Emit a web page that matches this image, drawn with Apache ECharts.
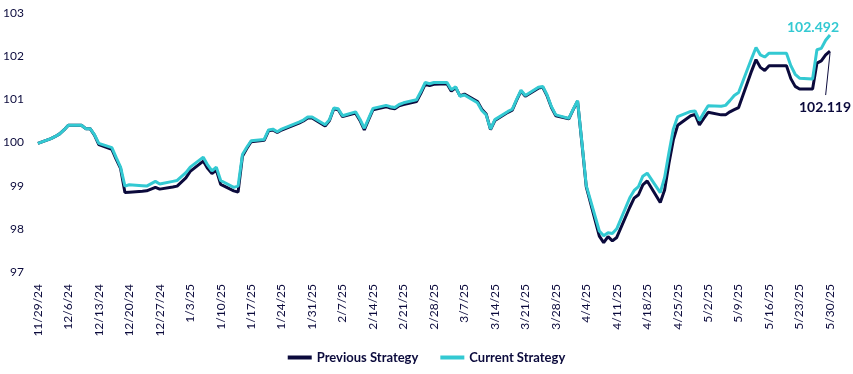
<!DOCTYPE html>
<html>
<head>
<meta charset="utf-8">
<script src="https://cdn.jsdelivr.net/npm/echarts@6/dist/echarts.min.js"></script>
<style>
  html, body { margin: 0; padding: 0; background: #fff; }
  #chart { width: 853px; height: 374px; }
</style>
</head>
<body>
<div id="chart"></div>
<script>
const obsDates = [
  '11/29/24', '12/2/24', '12/3/24', '12/4/24', '12/5/24', '12/6/24',
  '12/9/24', '12/10/24', '12/11/24', '12/12/24', '12/13/24',
  '12/16/24', '12/17/24', '12/18/24', '12/19/24', '12/20/24',
  '12/23/24', '12/24/24', '12/26/24', '12/27/24',
  '12/30/24', '12/31/24', '1/2/25', '1/3/25',
  '1/6/25', '1/7/25', '1/8/25', '1/9/25', '1/10/25',
  '1/13/25', '1/14/25', '1/15/25', '1/16/25', '1/17/25',
  '1/20/25', '1/21/25', '1/22/25', '1/23/25', '1/24/25',
  '1/27/25', '1/28/25', '1/29/25', '1/30/25', '1/31/25',
  '2/3/25', '2/4/25', '2/5/25', '2/6/25', '2/7/25',
  '2/10/25', '2/11/25', '2/12/25', '2/13/25', '2/14/25',
  '2/17/25', '2/18/25', '2/19/25', '2/20/25', '2/21/25',
  '2/24/25', '2/25/25', '2/26/25', '2/27/25', '2/28/25',
  '3/3/25', '3/4/25', '3/5/25', '3/6/25', '3/7/25',
  '3/10/25', '3/11/25', '3/12/25', '3/13/25', '3/14/25',
  '3/17/25', '3/18/25', '3/19/25', '3/20/25', '3/21/25',
  '3/24/25', '3/25/25', '3/26/25', '3/27/25', '3/28/25',
  '3/31/25', '4/1/25', '4/2/25', '4/3/25', '4/4/25',
  '4/7/25', '4/8/25', '4/9/25', '4/10/25', '4/11/25',
  '4/14/25', '4/15/25', '4/16/25', '4/17/25', '4/18/25',
  '4/21/25', '4/22/25', '4/23/25', '4/24/25', '4/25/25',
  '4/28/25', '4/29/25', '4/30/25', '5/1/25', '5/2/25',
  '5/5/25', '5/6/25', '5/7/25', '5/8/25', '5/9/25',
  '5/12/25', '5/13/25', '5/14/25', '5/15/25', '5/16/25',
  '5/19/25', '5/20/25', '5/21/25', '5/22/25', '5/23/25',
  '5/26/25', '5/27/25', '5/28/25', '5/29/25', '5/30/25'
];

const previousStrategy = [
  99.98, 100.09, 100.14, 100.20, 100.29, 100.40,
  100.40, 100.32, 100.32, 100.17, 99.95,
  99.84, 99.61, 99.40, 98.84, 98.85,
  98.87, 98.88, 98.96, 98.92,
  98.97, 98.99, 99.18, 99.33,
  99.57, 99.40, 99.28, 99.36, 99.03,
  98.88, 98.85, 99.68, 99.86, 100.02,
  100.05, 100.27, 100.29, 100.23, 100.29,
  100.41, 100.45, 100.50, 100.57, 100.57,
  100.38, 100.51, 100.78, 100.76, 100.60,
  100.68, 100.51, 100.29, 100.53, 100.76,
  100.83, 100.80, 100.78, 100.85, 100.88,
  100.95, 101.14, 101.35, 101.32, 101.35,
  101.36, 101.19, 101.27, 101.08, 101.12,
  100.95, 100.77, 100.66, 100.30, 100.51,
  100.70, 100.75, 100.98, 101.19, 101.07,
  101.26, 101.28, 101.08, 100.81, 100.62,
  100.55, 100.76, 100.96, 99.98, 98.97,
  97.83, 97.68, 97.82, 97.72, 97.80,
  98.50, 98.71, 98.79, 99.02, 99.11,
  98.61, 98.90, 99.52, 100.06, 100.40,
  100.62, 100.65, 100.41, 100.56, 100.70,
  100.64, 100.64, 100.71, 100.76, 100.81,
  101.66, 101.92, 101.74, 101.67, 101.78,
  101.78, 101.78, 101.48, 101.30, 101.24,
  101.24, 101.84, 101.89, 102.03, 102.119
];

const currentStrategy = [
  99.98, 100.09, 100.14, 100.20, 100.29, 100.40,
  100.40, 100.32, 100.32, 100.18, 99.98,
  99.88, 99.65, 99.43, 98.99, 99.02,
  99.00, 98.99, 99.10, 99.04,
  99.10, 99.12, 99.30, 99.43,
  99.66, 99.48, 99.34, 99.43, 99.12,
  98.96, 98.99, 99.72, 99.89, 100.04,
  100.07, 100.29, 100.31, 100.25, 100.31,
  100.43, 100.47, 100.52, 100.59, 100.59,
  100.41, 100.53, 100.80, 100.78, 100.62,
  100.71, 100.54, 100.33, 100.56, 100.79,
  100.86, 100.83, 100.81, 100.88, 100.92,
  100.99, 101.18, 101.39, 101.36, 101.39,
  101.39, 101.22, 101.29, 101.07, 101.10,
  100.92, 100.74, 100.64, 100.31, 100.53,
  100.72, 100.77, 101.00, 101.21, 101.09,
  101.28, 101.30, 101.10, 100.83, 100.64,
  100.56, 100.77, 100.97, 100.00, 99.00,
  97.95, 97.84, 97.91, 97.89, 98.00,
  98.72, 98.89, 98.98, 99.22, 99.29,
  98.84, 99.19, 99.77, 100.31, 100.60,
  100.72, 100.73, 100.51, 100.69, 100.85,
  100.84, 100.86, 100.97, 101.09, 101.16,
  101.95, 102.20, 102.03, 101.98, 102.07,
  102.07, 102.07, 101.78, 101.58, 101.49,
  101.47, 102.15, 102.18, 102.37, 102.492
];

const seriesNames = ['Previous Strategy', 'Current Strategy'];
const navy = '#0b0a3c';
const teal = '#33c9d2';

// calendar-day categories so weeks are spaced evenly like a date axis
function fmt(d) {
    return (d.getMonth() + 1) + '/' + d.getDate() + '/' + String(d.getFullYear()).slice(2);
}
const categories = [];
for (let d = new Date(2024, 10, 29); d <= new Date(2025, 4, 30); d.setDate(d.getDate() + 1)) {
    categories.push(fmt(d));
}

function toSeries(values, labelOpts) {
    const byDate = {};
    obsDates.forEach((k, i) => { byDate[k] = values[i]; });
    const out = categories.map(c => (c in byDate ? byDate[c] : null));
    const last = out.length - 1;
    out[last] = { value: out[last], label: labelOpts };
    return out;
}

// leader line under the last "previous" value, drawn in axis units
const lastCat = categories[categories.length - 1];
const lastPrev = previousStrategy[previousStrategy.length - 1];
const leader = [[
    { coord: [lastCat, lastPrev - 0.05] },
    { coord: [categories[categories.length - 2], lastPrev - 1.02] }
]];

const chart = echarts.init(document.getElementById('chart'));
chart.setOption({
    animation: false,
    grid: { left: 37, right: 23, top: 13, bottom: 102 },
    legend: {
        data: seriesNames,
        bottom: 5,
        left: 'center',
        icon: 'rect',
        itemWidth: 24,
        itemHeight: 4,
        itemGap: 22,
        textStyle: { fontFamily: 'Lato', fontWeight: 'bold', fontSize: 13, color: navy }
    },
    xAxis: {
        type: 'category',
        data: categories,
        boundaryGap: false,
        axisLine: { show: false },
        axisTick: { show: false },
        axisLabel: {
            interval: 6,
            rotate: 90,
            margin: 12,
            fontFamily: 'Lato',
            fontSize: 12,
            color: navy
        }
    },
    yAxis: {
        type: 'value',
        min: 97,
        max: 103,
        interval: 1,
        splitLine: { show: false },
        axisLine: { show: false },
        axisTick: { show: false },
        axisLabel: { fontFamily: 'Lato', fontSize: 12, color: navy, margin: 14 }
    },
    series: [
        {
            name: seriesNames[0],
            type: 'line',
            data: toSeries(previousStrategy, {
                show: true,
                position: 'bottom',
                formatter: '{c}',
                color: navy,
                fontFamily: 'Lato',
                fontWeight: 'bold',
                fontSize: 14
            }),
            connectNulls: true,
            showSymbol: true,
            showAllSymbol: true,
            symbol: 'circle',
            symbolSize: 0,
            lineStyle: { color: navy, width: 3 },
            itemStyle: { color: navy },
            labelLayout: { dx: -5, dy: 44 },
            markLine: {
                silent: true,
                symbol: ['none', 'none'],
                label: { show: false },
                lineStyle: { color: navy, width: 1, type: 'solid' },
                data: leader
            }
        },
        {
            name: seriesNames[1],
            type: 'line',
            data: toSeries(currentStrategy, {
                show: true,
                position: 'top',
                offset: [-17, 5],
                formatter: '{c}',
                color: teal,
                fontFamily: 'Lato',
                fontWeight: 'bold',
                fontSize: 14
            }),
            connectNulls: true,
            showSymbol: true,
            showAllSymbol: true,
            symbol: 'circle',
            symbolSize: 0,
            lineStyle: { color: teal, width: 3 },
            itemStyle: { color: teal }
        }
    ]
});
</script>
</body>
</html>
